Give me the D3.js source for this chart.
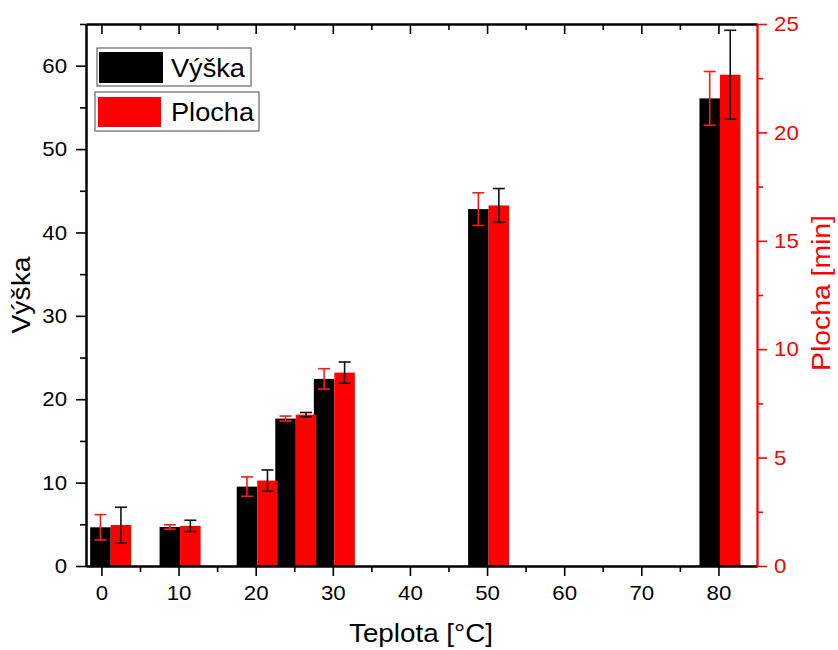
<!DOCTYPE html>
<html>
<head>
<meta charset="utf-8">
<script src="https://cdn.jsdelivr.net/npm/d3@7"></script>
<style>
  body { margin: 0; background: #fff; }
  svg { font-family: "Liberation Sans", Arial, sans-serif; }
</style>
</head>
<body>
<svg id="chart" width="838" height="650"></svg>
<script>
// Teplota (x position of each group)
const temps = [1, 10, 20, 25, 30, 50, 80];
const vyska = [4.64, 4.68, 9.52, 17.68, 22.44, 42.8, 56.08];
const vyskaErr = [1.52, 0.26, 1.16, 0.3, 1.22, 1.96, 3.22];
const plocha = [1.89, 1.85, 3.94, 6.98, 8.92, 16.63, 22.66];
const plochaErr = [0.82, 0.26, 0.49, 0.1, 0.49, 0.78, 2.05];

const xTicks = [0, 10, 20, 30, 40, 50, 60, 70, 80];
const xMinor = [5, 15, 25, 35, 45, 55, 65, 75];
const yLeftTicks = [0, 10, 20, 30, 40, 50, 60];
const yLeftMinor = [5, 15, 25, 35, 45, 55, 65];
const yRightTicks = [0, 5, 10, 15, 20, 25];
const yRightMinor = [2.5, 7.5, 12.5, 17.5, 22.5];

const L = 86, R = 757, T = 24, B = 566;
const barW = 2.66, barOff = 0.2;
const RED = '#ff0000';

const svg = d3.select('#chart');

const x = d3.scaleLinear().domain([-2, 85]).range([L, R]);
const yL = d3.scaleLinear().domain([0, 65]).range([B, T]);
const yR = d3.scaleLinear().domain([0, 25]).range([B, T]);

const rows = temps.map((t, i) => ({ t, v: vyska[i], ve: vyskaErr[i], p: plocha[i], pe: plochaErr[i] }));

// bars
const bars = svg.append('g');
bars.selectAll('rect.v').data(rows).enter().append('rect')
  .attr('x', d => x(d.t + barOff - barW))
  .attr('width', d => x(d.t + barOff) - x(d.t + barOff - barW))
  .attr('y', d => yL(d.v))
  .attr('height', d => yL(0) - yL(d.v))
  .attr('fill', '#000');
bars.selectAll('rect.p').data(rows).enter().append('rect')
  .attr('x', d => x(d.t + barOff))
  .attr('width', d => x(d.t + barOff + barW) - x(d.t + barOff))
  .attr('y', d => yR(d.p))
  .attr('height', d => yR(0) - yR(d.p))
  .attr('fill', RED);

// error bars (colours swapped like the original)
function errBars(cx, y, val, err, color) {
  const g = svg.append('g').attr('stroke', color).attr('stroke-width', 1.6).attr('fill', 'none');
  const sel = g.selectAll('g').data(rows).enter().append('g');
  sel.append('line').attr('x1', cx).attr('x2', cx)
    .attr('y1', d => y(val(d) + err(d))).attr('y2', d => y(val(d) - err(d)));
  sel.append('line').attr('x1', d => cx(d) - 6).attr('x2', d => cx(d) + 6)
    .attr('y1', d => y(val(d) + err(d))).attr('y2', d => y(val(d) + err(d)));
  sel.append('line').attr('x1', d => cx(d) - 6).attr('x2', d => cx(d) + 6)
    .attr('y1', d => y(val(d) - err(d))).attr('y2', d => y(val(d) - err(d)));
}
errBars(d => x(d.t + barOff - barW / 2), yL, d => d.v, d => d.ve, '#ff1a1a');
errBars(d => x(d.t + barOff + barW / 2), yR, d => d.p, d => d.pe, '#111');

// axes
function styleAxis(g, color, fs) {
  g.selectAll('path').attr('stroke', color).attr('stroke-width', 2);
  g.selectAll('line').attr('stroke', color).attr('stroke-width', 1.6);
  g.selectAll('text').attr('fill', color).attr('font-size', fs)
    .attr('font-family', '"Liberation Sans", Arial, sans-serif');
}

const xAx = svg.append('g').attr('transform', `translate(0,${B})`)
  .call(d3.axisBottom(x).tickValues(xTicks).tickSize(10).tickSizeOuter(0).tickPadding(9).tickFormat(d3.format('d')));
styleAxis(xAx, '#000', 21);
const xAxMin = svg.append('g').attr('transform', `translate(0,${B})`)
  .call(d3.axisBottom(x).tickValues(xMinor).tickSize(6).tickSizeOuter(0).tickFormat(''));
styleAxis(xAxMin, '#000', 21);

const xTop = svg.append('g').attr('transform', `translate(0,${T})`)
  .call(d3.axisBottom(x).tickValues(xTicks).tickSize(10).tickSizeOuter(0).tickFormat(''));
styleAxis(xTop, '#000', 21);
const xTopMin = svg.append('g').attr('transform', `translate(0,${T})`)
  .call(d3.axisBottom(x).tickValues(xMinor).tickSize(6).tickSizeOuter(0).tickFormat(''));
styleAxis(xTopMin, '#000', 21);

const yAx = svg.append('g').attr('transform', `translate(${L},0)`)
  .call(d3.axisLeft(yL).tickValues(yLeftTicks).tickSize(10).tickSizeOuter(0).tickPadding(9));
styleAxis(yAx, '#000', 21);
const yAxMin = svg.append('g').attr('transform', `translate(${L},0)`)
  .call(d3.axisLeft(yL).tickValues(yLeftMinor).tickSize(6).tickSizeOuter(0).tickFormat(''));
styleAxis(yAxMin, '#000', 21);

const yRAx = svg.append('g').attr('transform', `translate(${R},0)`)
  .call(d3.axisRight(yR).tickValues(yRightTicks).tickSize(10).tickSizeOuter(0).tickPadding(7));
styleAxis(yRAx, RED, 21);
const yRAxMin = svg.append('g').attr('transform', `translate(${R},0)`)
  .call(d3.axisRight(yR).tickValues(yRightMinor).tickSize(6).tickSizeOuter(0).tickFormat(''));
styleAxis(yRAxMin, RED, 21);
yRAx.select('path').attr('stroke-width', 1.6);

// tick labels in the original are a bit wider than Liberation Sans
svg.selectAll('.tick text').each(function () {
  const w = this.getComputedTextLength();
  d3.select(this).attr('textLength', w * 1.06).attr('lengthAdjust', 'spacingAndGlyphs');
});

// titles
svg.append('text').attr('x', 421).attr('y', 642).attr('text-anchor', 'middle')
  .attr('font-size', 25).attr('fill', '#000')
  .attr('textLength', 144).attr('lengthAdjust', 'spacingAndGlyphs').text('Teplota [°C]');
svg.append('text').attr('transform', 'translate(30,295) rotate(-90)').attr('text-anchor', 'middle')
  .attr('font-size', 25).attr('fill', '#000')
  .attr('textLength', 77).attr('lengthAdjust', 'spacingAndGlyphs').text('Výška');
svg.append('text').attr('transform', 'translate(830,293) rotate(-90)').attr('text-anchor', 'middle')
  .attr('font-size', 26).attr('fill', RED)
  .attr('textLength', 156).attr('lengthAdjust', 'spacingAndGlyphs').text('Plocha [min]');

// legend
const legend = [
  { name: 'Výška', color: '#000', box: [97, 48, 154, 38], sw: [99, 52, 64, 31], ty: 77, tl: 74 },
  { name: 'Plocha', color: RED, box: [95, 92, 164, 39], sw: [98, 97, 63, 30], ty: 121, tl: 83 }
];
const lg = svg.append('g').selectAll('g').data(legend).enter().append('g');
lg.append('rect').attr('x', d => d.box[0]).attr('y', d => d.box[1])
  .attr('width', d => d.box[2]).attr('height', d => d.box[3])
  .attr('fill', '#fff').attr('stroke', '#666').attr('stroke-width', 1.2);
lg.append('rect').attr('x', d => d.sw[0]).attr('y', d => d.sw[1])
  .attr('width', d => d.sw[2]).attr('height', d => d.sw[3]).attr('fill', d => d.color);
lg.append('text').attr('x', 171).attr('y', d => d.ty).attr('font-size', 25).attr('fill', '#000')
  .attr('textLength', d => d.tl).attr('lengthAdjust', 'spacingAndGlyphs').text(d => d.name);
</script>
</body>
</html>
